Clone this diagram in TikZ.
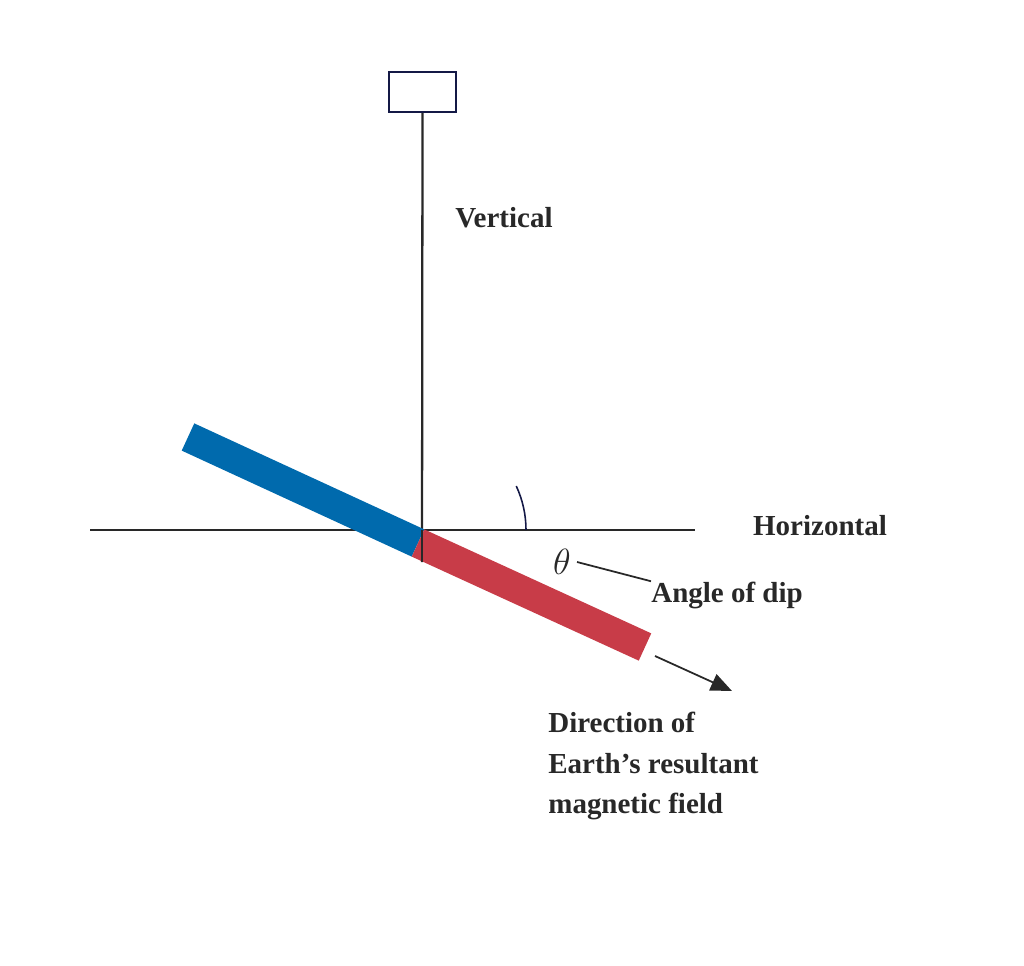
\documentclass[tikz,border=0pt]{standalone}
\usepackage{fontspec}
\setmainfont{Liberation Serif}
\usetikzlibrary{arrows.meta}
\definecolor{navy}{RGB}{20,25,70}
\definecolor{ink}{RGB}{40,40,40}
\definecolor{barblue}{RGB}{0,106,173}
\definecolor{barred}{RGB}{200,60,72}
\begin{document}
\begin{tikzpicture}[x=0.02cm,y=-0.02cm,
  lbl/.style={font=\fontsize{16.5}{22}\selectfont\bfseries,text=ink,inner sep=0pt},
  ln/.style={draw=ink,line width=1.3pt}]
\useasboundingbox (0,0) rectangle (1024,966);
\node[draw=navy,line width=1.3pt,minimum width=1.34cm,minimum height=0.8cm,inner sep=0pt] (box) at (422.5,92) {};
\coordinate (vb) at (422,562);
\coordinate (o) at (422,530);
\coordinate (hl) at (90,530);
\coordinate (hr) at (695,530);
\draw[ln] (box.south) -- (vb);
\draw[ln] (hl) -- (hr);
\coordinate (bs) at (188,437);
\coordinate (bm) at (418,543);
\coordinate (be) at (645,647);
\draw[barblue,line width=0.6cm] (bs) -- (bm);
\draw[barred,line width=0.6cm] (bm) -- (be);
\draw[ln] (422,530) -- (vb);
\draw[navy,line width=0.9pt] (o) ++(0:104) arc[start angle=0,end angle=-25,radius=104];
\node[font=\fontsize{20}{24}\selectfont\itshape,text=ink] (th) at (562,562) {$\theta$};
\node[lbl,anchor=west] (dip) at (651,595) {Angle of dip};
\draw[ink,line width=1pt] (th.east) -- (dip.north west);
\node[lbl] (vert) at (504,218) {Vertical};
\node[lbl] (hor) at (820,526) {Horizontal};
\coordinate (as) at (655,656);
\coordinate (ae) at (732,691);
\draw[ink,line width=1pt,-{Triangle[length=12pt,width=10pt]}] (as) -- (ae);
\node[lbl,anchor=north west,align=left,font=\fontsize{16.5}{23}\selectfont\bfseries] (dir) at (548,712) {Direction of\\Earth's resultant\\magnetic field};
\end{tikzpicture}
\end{document}
